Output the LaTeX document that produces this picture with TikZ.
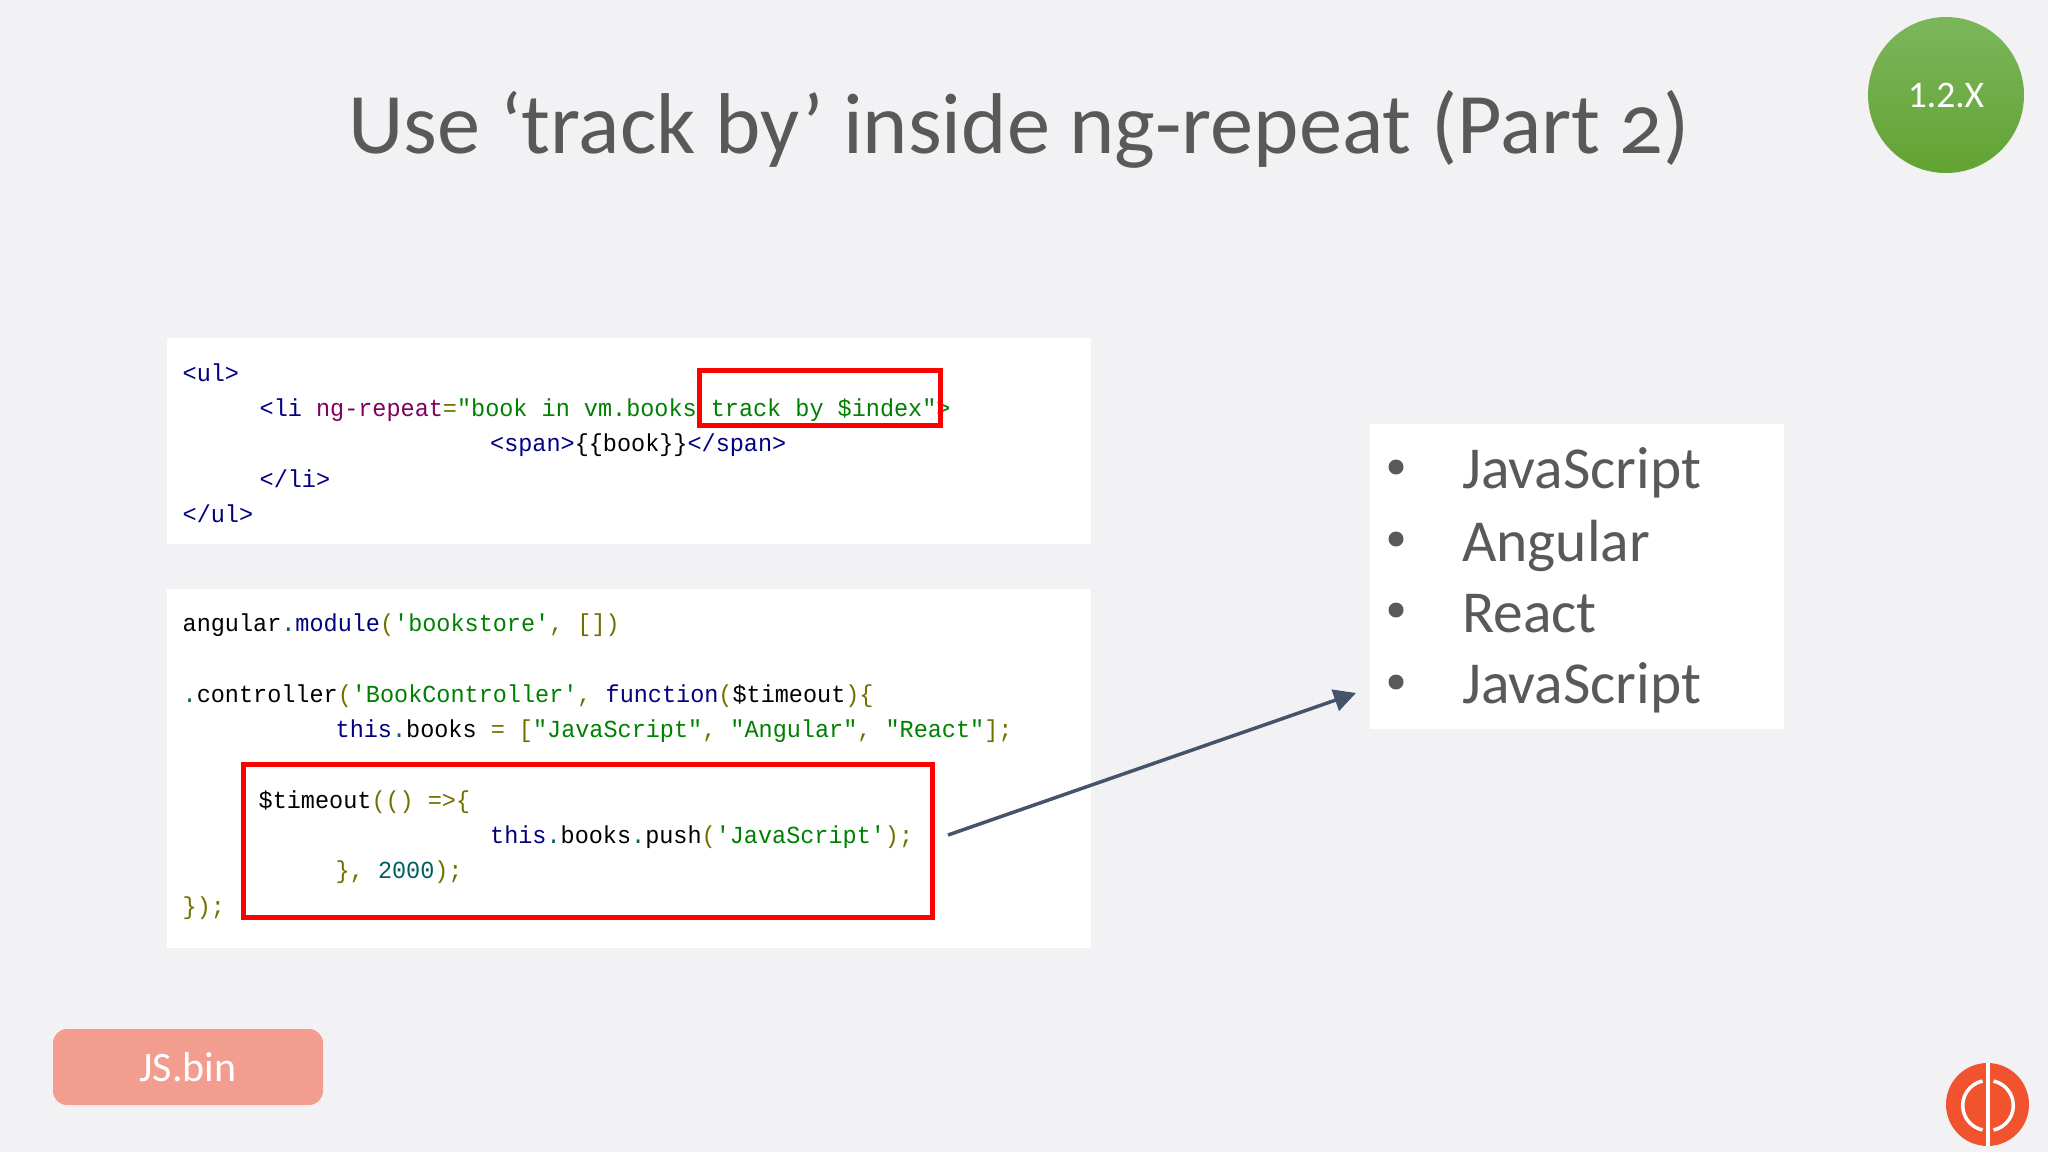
\documentclass[tikz,border=0pt]{standalone}
\usepackage{fontspec}
\usepackage{xcolor}
\usetikzlibrary{arrows.meta}
\setmainfont{Carlito}
\newfontfamily\codefont[FakeStretch=0.959]{Liberation Mono}

\definecolor{slidebg}{HTML}{F2F2F4}
\definecolor{slidetext}{HTML}{595959}
\definecolor{codetag}{HTML}{000080}
\definecolor{codeattr}{HTML}{800060}
\definecolor{codestr}{HTML}{008000}
\definecolor{codeop}{HTML}{707000}
\definecolor{codenum}{HTML}{006060}
\definecolor{arrowblue}{HTML}{44546A}
\definecolor{logored}{HTML}{F0532D}
\definecolor{badgetop}{HTML}{7CB65C}
\definecolor{badgebottom}{HTML}{62A332}
\definecolor{buttonfill}{HTML}{F29D8F}

\newcommand{\tg}[1]{\textcolor{codetag}{#1}}
\newcommand{\at}[1]{\textcolor{codeattr}{#1}}
\newcommand{\st}[1]{\textcolor{codestr}{#1}}
\newcommand{\op}[1]{\textcolor{codeop}{#1}}
\newcommand{\nm}[1]{\textcolor{codenum}{#1}}

\tikzset{
  codeline/.style={anchor=base west,inner sep=0pt,font=\codefont\fontsize{24.5}{28}\selectfont},
  listitem/.style={anchor=base west,inner sep=0pt,text=slidetext,font=\fontsize{59.5}{64}\selectfont},
  listdot/.style={circle,fill=slidetext,inner sep=0pt,minimum size=15pt},
  panel/.style={fill=white},
  redbox/.style={draw=red,line width=5pt}
}

\begin{document}
\begin{tikzpicture}[x=1pt,y=-1pt]
  \useasboundingbox (0,0) rectangle (2048,1152);
  \fill[slidebg] (0,0) rectangle (2048,1152);

  % Title
  \node[anchor=base,inner sep=0pt,text=slidetext,font=\fontsize{86.3}{96}\selectfont] (title) at (1019,153)
    {Use ‘track by’ inside ng-repeat (Part {\addfontfeatures{Numbers=OldStyle}2})};

  % Version badge
  \node[circle,minimum size=156pt,inner sep=0pt,top color=badgetop,bottom color=badgebottom,text=white,font=\fontsize{37.5}{40}\selectfont] (badge) at (1946,95) {\raisebox{-2pt}{1.2.X}};

  % Panels
  \fill[panel] (167,338) rectangle (1091,544);
  \fill[panel] (167,589) rectangle (1091,948);
  \fill[panel] (1370,424) rectangle (1784,729);

  % Markup
  \node[codeline] (ulopen) at (182.5,381) {\tg{<ul>}};
  \node[codeline] (liopen) at (259.5,416) {\tg{<li} \at{ng-repeat}\op{=}\st{"book in vm.books track by \$index"}\st{>}};
  \node[codeline] (spanline) at (490,451) {\tg{<span>}\{\{book\}\}\tg{</span>}};
  \node[codeline] (liclose) at (259.5,487) {\tg{</li>}};
  \node[codeline] (ulclose) at (182.5,522) {\tg{</ul>}};

  % Script
  \node[codeline] (modline) at (182.5,631) {angular\nm{.}\tg{module}\op{(}\st{'bookstore'}\op{, [])}};
  \node[codeline] (ctrlline) at (182.5,702) {\nm{.}controller\op{(}\st{'BookController'}\op{,} \tg{function}\op{(}\$timeout\op{)\{}};
  \node[codeline] (booksline) at (335.5,737) {\tg{this}\nm{.}books \op{= [}\st{"JavaScript"}\op{,} \st{"Angular"}\op{,} \st{"React"}\op{];}};
  \node[codeline] (timeoutline) at (258.5,808) {\$timeout\op{(() =>\{}};
  \node[codeline] (pushline) at (490,843) {\tg{this}\nm{.}books\nm{.}push\op{(}\st{'JavaScript'}\op{);}};
  \node[codeline] (closeline) at (335.5,878) {\op{\},} \nm{2000}\op{);}};
  \node[codeline] (endline) at (182.5,914) {\op{\});}};

  % Red boxes
  \draw[redbox] (699,370) rectangle (940,425);
  \draw[redbox] (243,764) rectangle (932,917.5);

  % List
  \foreach \name/\ypos/\ybase/\word in {js/467/488/JavaScript,ng/539/561/Angular,re/610/632/React,pu/682/703/JavaScript}{
    \node[listdot] (dot\name) at (1396,\ypos) {};
    \node[listitem] (item\name) at (1462,\ybase) {\word};
  }

  % Arrow
  \coordinate (arrowfrom) at (948,835);
  \coordinate (arrowto) at (1356,693);
  \draw[arrowblue,line width=3.5pt,-{Triangle[length=22pt,width=22pt]}] (arrowfrom) -- (arrowto);

  % Button
  \node[rounded corners=14pt,fill=buttonfill,minimum width=270pt,minimum height=76pt,inner sep=0pt,text=white,font=\fontsize{42}{46}\selectfont] (jsbin) at (188,1067) {JS.bin};

  % Logo
  \fill[logored] (1987.5,1104.5) circle (41.5pt);
  \draw[white,line width=4pt] (1988,1063) -- (1988,1146);
  \draw[white,line width=3.5pt] (1982.5,1081) arc[start angle=102,end angle=258,radius=25pt];
  \draw[white,line width=3.5pt] (1993.5,1130) arc[start angle=-78,end angle=78,radius=25pt];
\end{tikzpicture}
\end{document}
